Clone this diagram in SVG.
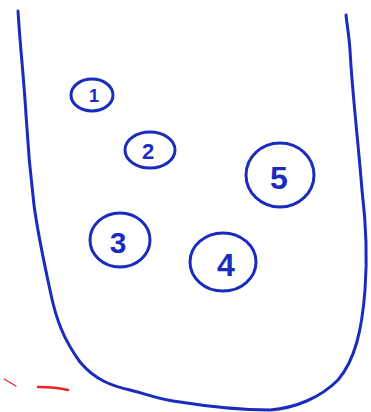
<svg xmlns="http://www.w3.org/2000/svg" width="371" height="412" viewBox="0 0 371 412">
<style>
.ink{fill:none;stroke:#1a2cbd;stroke-width:3;stroke-linecap:round;stroke-linejoin:round}
.num{font-family:"Liberation Sans",sans-serif;font-weight:bold;fill:#1a2cbd;text-anchor:middle;dominant-baseline:central}
.red{fill:none;stroke:#ee2222;stroke-linecap:round}
</style>
<rect width="371" height="412" fill="#ffffff"/>
<g id="container">
<path class="ink" d="M18,11 C20,45 24,80 26,115 C28,150 31,180 34,205 C38,235 44,262 50,290 C56,320 64,340 80,362 C95,380 112,386 130,390 C150,395 160,400 180,402 C205,406 235,410 270,410 C295,408 320,398 338,380 C355,360 362,330 365,290 C368,250 365,215 362,190 C358,140 352,90 350,50 C349,35 347,25 346,15"/>
</g>
<g id="node1">
<ellipse class="ink" cx="92" cy="95" rx="21" ry="16" stroke-width="2.5"/>
<text class="num" x="94" y="96" font-size="18">1</text>
</g>
<g id="node2">
<ellipse class="ink" cx="150" cy="150" rx="25" ry="18"/>
<text class="num" x="148" y="151" font-size="22">2</text>
</g>
<g id="node3">
<ellipse class="ink" cx="120" cy="240" rx="30" ry="27"/>
<text class="num" x="118" y="242" font-size="30">3</text>
</g>
<g id="node4">
<ellipse class="ink" cx="223" cy="262" rx="33" ry="29"/>
<text class="num" x="226" y="265" font-size="32">4</text>
</g>
<g id="node5">
<ellipse class="ink" cx="280" cy="175" rx="34" ry="32"/>
<text class="num" x="279" y="178" font-size="32">5</text>
</g>
<g id="marks">
<path class="red" stroke-width="1.2" d="M4,379 L16,386"/>
<path class="red" stroke-width="2.5" d="M38,387 C50,387 60,388 68,390"/>
</g>
</svg>
